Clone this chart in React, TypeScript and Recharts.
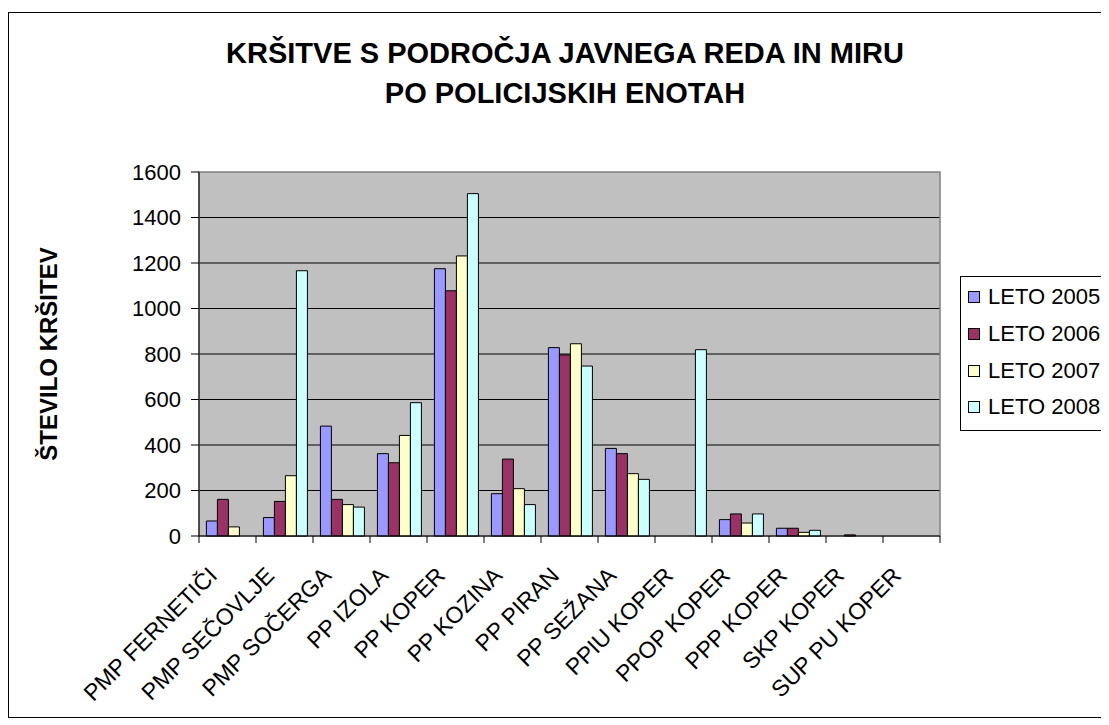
import React from "react";
import {
  Bar,
  BarChart,
  CartesianGrid,
  Legend,
  ReferenceArea,
  XAxis,
  YAxis,
} from "recharts";

const FONT = '"Liberation Sans", Arial, sans-serif';

const units = [
  "PMP FERNETIČI",
  "PMP SEČOVLJE",
  "PMP SOČERGA",
  "PP IZOLA",
  "PP KOPER",
  "PP KOZINA",
  "PP PIRAN",
  "PP SEŽANA",
  "PPIU KOPER",
  "PPOP KOPER",
  "PPP KOPER",
  "SKP KOPER",
  "SUP PU KOPER",
];

const leto2005 = [66, 81, 483, 362, 1175, 186, 828, 385, 0, 72, 34, 0, 0];
const leto2006 = [161, 152, 161, 322, 1078, 338, 796, 362, 0, 97, 34, 5, 0];
const leto2007 = [40, 265, 138, 442, 1231, 208, 845, 274, 0, 57, 16, 0, 0];
const leto2008 = [0, 1166, 127, 586, 1505, 138, 747, 249, 819, 97, 25, 0, 0];

const yTicks = [0, 200, 400, 600, 800, 1000, 1200, 1400, 1600];
const gridLines = [200, 400, 600, 800, 1000, 1200, 1400];

const series = [
  { key: "l2005", name: "LETO 2005", color: "#9999FF" },
  { key: "l2006", name: "LETO 2006", color: "#993366" },
  { key: "l2007", name: "LETO 2007", color: "#FFFFCC" },
  { key: "l2008", name: "LETO 2008", color: "#CCFFFF" },
];

const data = units.map((unit, i) => ({
  unit,
  l2005: leto2005[i],
  l2006: leto2006[i],
  l2007: leto2007[i],
  l2008: leto2008[i],
}));

function UnitTick(props: any) {
  const { x, y, payload, index } = props;
  const half = payload?.offset || 28.5;
  const tx = x - 9;
  const ty = y + 41;
  return (
    <g>
      <line x1={x - half} y1={y} x2={x - half} y2={y + 7} stroke="#000" />
      {index === units.length - 1 && (
        <line x1={x + half} y1={y} x2={x + half} y2={y + 7} stroke="#000" />
      )}
      <text
        x={tx}
        y={ty}
        transform={`rotate(-45, ${tx}, ${ty})`}
        textAnchor="end"
        fontSize={23}
        fontFamily={FONT}
        fill="#000"
      >
        {payload.value}
      </text>
    </g>
  );
}

function LegendBox() {
  return (
    <div
      style={{
        width: 165,
        height: 155,
        boxSizing: "border-box",
        border: "1px solid #000",
        background: "#fff",
        paddingTop: 2,
        paddingLeft: 7,
        fontFamily: FONT,
        fontSize: 22,
        color: "#000",
      }}
    >
      {series.map((s) => (
        <div
          key={s.key}
          style={{ height: 36.7, display: "flex", alignItems: "center", whiteSpace: "nowrap" }}
        >
          <span
            style={{
              width: 12,
              height: 12,
              boxSizing: "border-box",
              border: "1px solid #000",
              background: s.color,
              marginRight: 8,
              flex: "none",
            }}
          />
          <span>{s.name}</span>
        </div>
      ))}
    </div>
  );
}

export default function App() {
  return (
    <div
      style={{
        position: "relative",
        width: 1101,
        height: 712,
        overflow: "hidden",
        fontFamily: FONT,
      }}
    >
      <div
        style={{
          position: "absolute",
          left: 0,
          top: 4,
          width: 1130,
          height: 706,
          border: "1px solid #000",
          boxSizing: "border-box",
        }}
      />
      <div style={{ position: "absolute", left: 0, top: 0 }}>
        <BarChart
          width={1101}
          height={710}
          data={data}
          margin={{ top: 164, right: 169, bottom: 0, left: 0 }}
          barCategoryGap="13%"
          barGap={0}
        >
          <CartesianGrid
            vertical={false}
            horizontalValues={gridLines}
            stroke="#000"
            fill="#C0C0C0"
            fillOpacity={1}
          />
          <ReferenceArea y1={0} y2={1600} fill="none" stroke="#808080" strokeWidth={1.5} />
          <XAxis
            dataKey="unit"
            interval={0}
            height={182}
            tickSize={0}
            tickMargin={0}
            tickLine={false}
            axisLine={{ stroke: "#000" }}
            tick={<UnitTick />}
          />
          <YAxis
            width={191}
            domain={[0, 1600]}
            ticks={yTicks}
            interval={0}
            tickSize={8}
            tickMargin={10}
            axisLine={{ stroke: "#000" }}
            tickLine={{ stroke: "#000" }}
            tick={{ fill: "#000", fontSize: 22, fontFamily: FONT }}
            label={{
              value: "ŠTEVILO KRŠITEV",
              angle: -90,
              position: "insideLeft",
              offset: 40,
              style: {
                textAnchor: "middle",
                fontWeight: "bold",
                fontSize: 24,
                fill: "#000",
                fontFamily: FONT,
              },
            }}
          />
          <Legend
            layout="vertical"
            align="center"
            verticalAlign="middle"
            wrapperStyle={{ left: 952, top: 268, width: 170 }}
            content={<LegendBox />}
          />
          {series.map((s) => (
            <Bar
              key={s.key}
              dataKey={s.key}
              name={s.name}
              fill={s.color}
              stroke="#000"
              strokeWidth={1}
              isAnimationActive={false}
            />
          ))}
        </BarChart>
      </div>
      <div
        style={{
          position: "absolute",
          left: 0,
          top: 25,
          width: 1114,
          textAlign: "center",
          fontWeight: "bold",
          fontSize: 29,
          lineHeight: "40px",
          color: "#000",
        }}
      >
        KRŠITVE S PODROČJA JAVNEGA REDA IN MIRU
        <br />
        PO POLICIJSKIH ENOTAH
      </div>
    </div>
  );
}
